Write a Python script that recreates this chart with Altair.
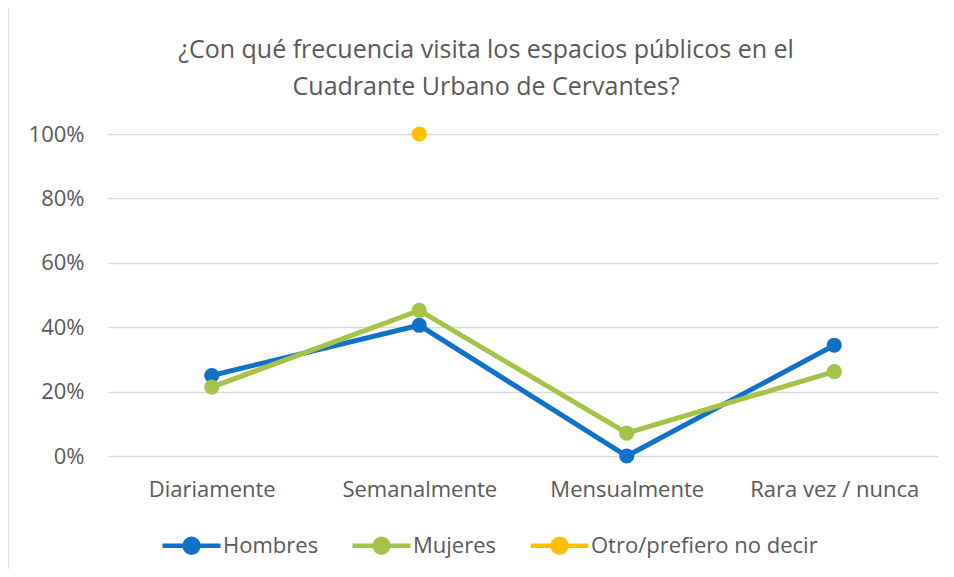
import altair as alt
import pandas as pd

categories = ["Diariamente", "Semanalmente", "Mensualmente", "Rara vez / nunca"]
series = ["Hombres", "Mujeres", "Otro/prefiero no decir"]
hombres = [0.25, 0.406, 0.0, 0.344]
mujeres = [0.214, 0.452, 0.071, 0.262]
otro_cat = ["Semanalmente"]
otro = [1.0]
colors = ["#1170C8", "#A5C249", "#FFC000"]
title_lines = ["¿Con qué frecuencia visita los espacios públicos en el",
               "Cuadrante Urbano de Cervantes?"]

rows = []
for c, v in zip(categories, hombres):
    rows.append({"cat": c, "serie": series[0], "val": v})
for c, v in zip(categories, mujeres):
    rows.append({"cat": c, "serie": series[1], "val": v})
for c, v in zip(otro_cat, otro):
    rows.append({"cat": c, "serie": series[2], "val": v})
df = pd.DataFrame(rows)

FONT = "Open Sans"
GRAY = "#595959"
FS = 22

x = alt.X("cat:N", sort=categories, title=None,
          scale=alt.Scale(paddingInner=0, paddingOuter=0),
          axis=alt.Axis(labelAngle=0, labelFontSize=FS, labelColor=GRAY, labelFont=FONT,
                        domain=False, ticks=False, grid=False, labelPadding=23))
y = alt.Y("val:Q", title=None, scale=alt.Scale(domain=[0, 1], nice=False),
          axis=alt.Axis(values=[0, 0.2, 0.4, 0.6, 0.8, 1.0], format=".0%",
                        labelFontSize=FS, labelColor=GRAY, labelFont=FONT,
                        domain=False, ticks=False, gridColor="#D9D9D9", gridWidth=1.3,
                        labelPadding=24))
legend = alt.Legend(title=None, orient="none", direction="horizontal",
                    legendX=52, legendY=380,
                    symbolType="M-1,0L1,0M0.24,0A0.24,0.24 0 1,1 -0.24,0A0.24,0.24 0 1,1 0.24,0Z",
                    symbolSize=3364, symbolStrokeWidth=4.5, labelOffset=0, labelLimit=400,
                    columnPadding=24, labelFontSize=FS, labelColor=GRAY, labelFont=FONT)
cscale = alt.Scale(domain=series, range=colors)

base = alt.Chart(df)
pts = base.mark_point(filled=True, size=230, opacity=1, strokeWidth=0).encode(
    x=x, y=y,
    fill=alt.Fill("serie:N", scale=cscale, sort=series, legend=legend),
    stroke=alt.Stroke("serie:N", scale=cscale, sort=series, legend=legend),
)
lines = base.mark_line(strokeWidth=5).encode(
    x=x, y=y,
    stroke=alt.Stroke("serie:N", scale=cscale, sort=series, legend=legend),
    detail="serie:N",
)
layers = []
for s in series:
    layers.append(lines.transform_filter(alt.datum.serie == s))
    layers.append(pts.transform_filter(alt.datum.serie == s))

border = alt.Chart(pd.DataFrame({"a": [0]})).mark_rule(color="#D9D9D9", strokeWidth=1.5).encode(
    x=alt.value(-100), y=alt.value(-126), y2=alt.value(440))
layers.append(border)

chart = alt.layer(*layers).properties(
    width=830, height=322,
    title=alt.TitleParams(title_lines, fontSize=25, font=FONT, fontWeight="normal",
                          color=GRAY, anchor="middle", dx=-37, offset=-93, lineHeight=37),
    autosize=alt.AutoSizeParams(type="none"),
    padding={"left": 100, "top": 126, "right": 8, "bottom": 113},
    background="white",
).configure_view(stroke=None)

chart.save("out.html", embed_options={"renderer": "svg", "actions": False})
